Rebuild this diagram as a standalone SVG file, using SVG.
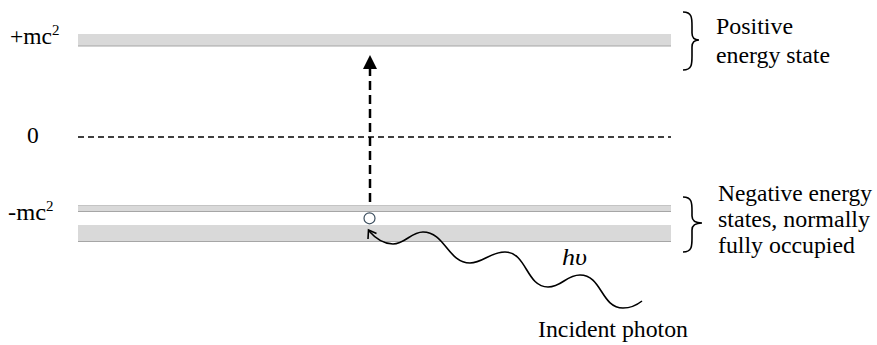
<svg xmlns="http://www.w3.org/2000/svg" width="877" height="345" viewBox="0 0 877 345">
<style>
.bar{fill:#d9d9d9}
.edge{stroke:#a6a6a6;stroke-width:1.2}
.edge2{stroke:#c4c4c4;stroke-width:1}
.brace{fill:none;stroke:#000;stroke-width:1.6}
.t{font-family:"Liberation Serif","Times New Roman",serif;font-size:23.5px;fill:#000}
</style>
<rect width="877" height="345" fill="#fff"/>
<g id="levels">
<g id="positive-band">
<rect class="bar" x="78" y="34" width="593" height="12"/>
<line class="edge" x1="78" y1="46" x2="671" y2="46"/>
</g>
<g id="zero-line">
<line x1="78" y1="137" x2="671" y2="137" stroke="#000" stroke-width="1.5" stroke-dasharray="6,4"/>
</g>
<g id="negative-thin-band">
<rect class="bar" x="78" y="205" width="593" height="7"/>
<line class="edge2" x1="78" y1="205.5" x2="671" y2="205.5"/>
<line class="edge" x1="78" y1="211.5" x2="671" y2="211.5"/>
</g>
<g id="negative-thick-band">
<rect class="bar" x="78" y="225" width="593" height="17"/>
<line class="edge" x1="78" y1="241.5" x2="671" y2="241.5"/>
</g>
</g>
<g id="labels-left">
<text class="t" x="10" y="44"><tspan textLength="42" lengthAdjust="spacingAndGlyphs">+mc</tspan><tspan font-size="15" dy="-9">2</tspan></text>
<text class="t" x="27" y="143">0</text>
<text class="t" x="8" y="220"><tspan textLength="38" lengthAdjust="spacingAndGlyphs">-mc</tspan><tspan font-size="15" dy="-9">2</tspan></text>
</g>
<g id="photon-labels">
<text class="t" x="562" y="265" font-style="italic" textLength="25" lengthAdjust="spacingAndGlyphs">hυ</text>
<text class="t" x="538" y="337" textLength="150" lengthAdjust="spacingAndGlyphs">Incident photon</text>
</g>
<g id="positive-label">
<path class="brace" d="M683,12 C692,12 692,18 692,26 L692,33 C692,38 694,40 699,40 C694,40 692,42 692,47 L692,56 C692,64 692,70 683,70"/>
<text class="t" x="716" y="34" textLength="77" lengthAdjust="spacingAndGlyphs">Positive</text>
<text class="t" x="716" y="63" textLength="114" lengthAdjust="spacingAndGlyphs">energy state</text>
</g>
<g id="negative-label">
<path class="brace" d="M683,197 C692,197 692,203 692,211 L692,216 C692,221 695,223 702,223 C695,223 692,225 692,230 L692,238 C692,246 692,252 683,252"/>
<text class="t" x="718" y="201" textLength="154" lengthAdjust="spacingAndGlyphs">Negative energy</text>
<text class="t" x="718" y="227" textLength="152" lengthAdjust="spacingAndGlyphs">states, normally</text>
<text class="t" x="718" y="253" textLength="137" lengthAdjust="spacingAndGlyphs">fully occupied</text>
</g>
<g id="hole">
<circle cx="369.5" cy="218.3" r="5.5" fill="#fff" stroke="#3d4f5f" stroke-width="1.2"/>
</g>
<g id="connectors">
<line x1="370" y1="202" x2="370" y2="67" stroke="#000" stroke-width="2.5" stroke-dasharray="9,5"/>
<polygon points="370,55 377,69 363,69" fill="#000"/>
<path d="M642,301 C637,305 631,308 623,308 C601,308 602,275 580,275 C566,275 562,287 548,287 C526,287 527,252 505,252 C490,252 483,263 470,263 C448,263 445,232 423,232 C411,232 405,244 393,244 C384,244 376,239 369,231" fill="none" stroke="#000" stroke-width="1.6"/>
<polyline points="376.5,233.5 368.5,230 368,239" fill="none" stroke="#000" stroke-width="1.6" stroke-linejoin="miter"/>
</g>
</svg>
